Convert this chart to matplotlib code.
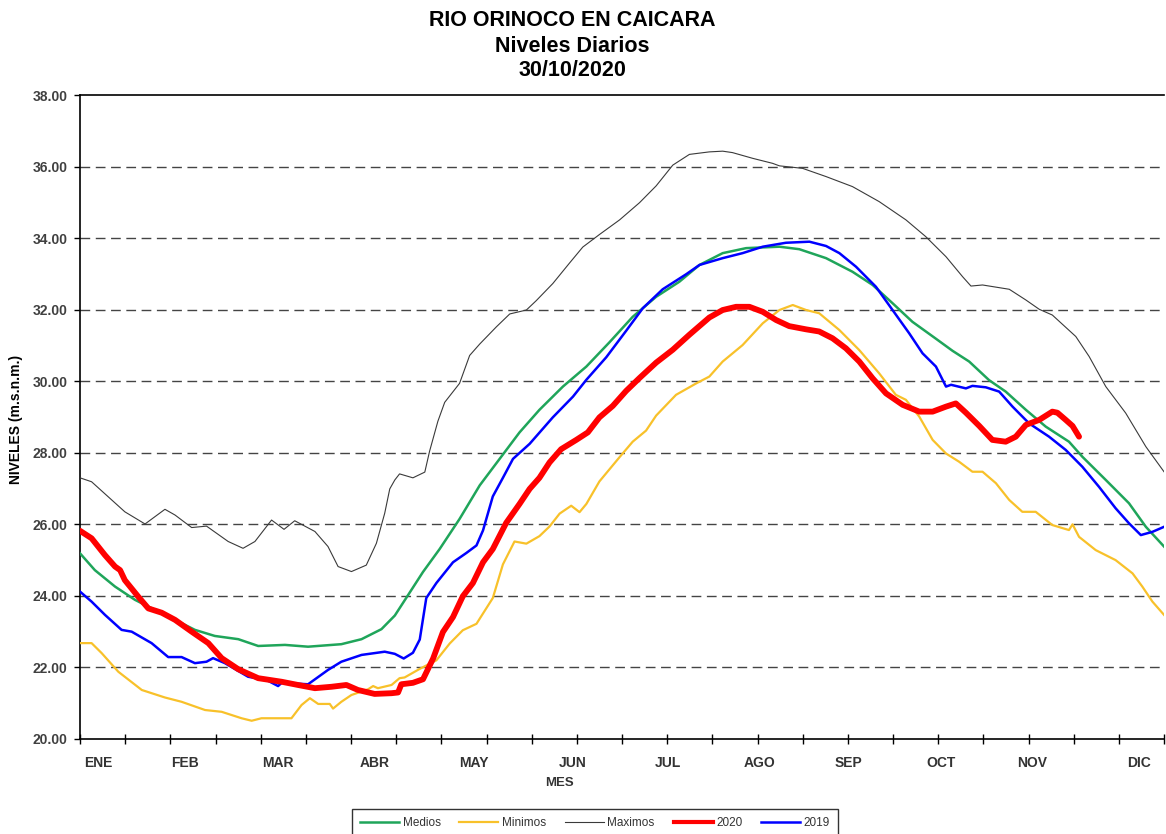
import numpy as np
import matplotlib
matplotlib.use("Agg")
import matplotlib.pyplot as plt
from matplotlib.lines import Line2D

plt.rcParams['font.family'] = ['Liberation Sans', 'DejaVu Sans']

# ---------------- DATA (day of year, level m.s.n.m.) ----------------
max_day = [0, 3.9, 9.5, 15.1, 21.9, 28.6, 32.0, 37.6, 42.6, 49.9, 54.9, 58.9, 64.5, 68.7, 72.3,
           79.1, 83.5, 86.9, 91.4, 96.4, 99.8, 102.6, 104.3, 106.0, 107.6, 112.1, 116.1, 117.7,
           120.5, 122.8, 127.8, 131.2, 134.6, 140.2, 144.7, 150.3, 153.6, 159.2, 164.8, 169.3,
           174.9, 181.7, 188.4, 194.0, 199.6, 205.2, 211.9, 216.4, 219.7, 226.5, 233.2, 235.5,
           243.3, 251.2, 260.1, 269.1, 278.1, 284.8, 291.6, 297.2, 300.0, 303.9, 312.9, 318.5,
           323.0, 327.4, 335.3, 339.8, 345.4, 352.1, 358.9, 365.0]
max_val = [27.30, 27.19, 26.77, 26.35, 26.01, 26.42, 26.26, 25.91, 25.95, 25.52, 25.33, 25.52,
           26.12, 25.86, 26.10, 25.80, 25.38, 24.82, 24.68, 24.86, 25.47, 26.31, 26.99, 27.24,
           27.41, 27.30, 27.46, 28.04, 28.88, 29.41, 29.94, 30.72, 31.04, 31.52, 31.88, 31.99,
           32.25, 32.73, 33.30, 33.75, 34.10, 34.51, 34.99, 35.46, 36.04, 36.34, 36.41, 36.43,
           36.39, 36.23, 36.09, 36.02, 35.95, 35.72, 35.44, 35.02, 34.51, 34.04, 33.48, 32.92,
           32.66, 32.69, 32.57, 32.27, 32.01, 31.85, 31.25, 30.69, 29.85, 29.11, 28.17, 27.47]

med_day = [0, 5.0, 11.8, 18.5, 25.2, 32.0, 38.7, 45.4, 53.3, 60.0, 69.0, 76.8, 88.0, 94.8, 101.5,
           106.0, 109.9, 115.5, 121.1, 127.8, 134.6, 141.3, 148.0, 154.7, 162.6, 170.5, 178.3,
           186.1, 194.0, 201.8, 208.6, 216.4, 224.3, 235.5, 242.2, 251.2, 260.1, 266.9, 273.6,
           280.3, 288.0, 293.8, 299.4, 306.1, 311.7, 318.5, 325.2, 333.0, 337.5, 345.4, 353.2,
           358.9, 365.0]
med_val = [25.19, 24.72, 24.26, 23.89, 23.61, 23.33, 23.05, 22.88, 22.79, 22.60, 22.63, 22.58,
           22.65, 22.79, 23.07, 23.45, 23.95, 24.67, 25.31, 26.15, 27.09, 27.83, 28.57, 29.20,
           29.85, 30.41, 31.09, 31.80, 32.36, 32.78, 33.25, 33.58, 33.72, 33.76, 33.69, 33.44,
           33.06, 32.69, 32.18, 31.66, 31.20, 30.85, 30.55, 30.03, 29.71, 29.20, 28.73, 28.31,
           27.89, 27.24, 26.59, 25.93, 25.38]

min_day = [0, 3.9, 7.3, 12.9, 20.8, 28.6, 34.2, 42.1, 47.7, 54.4, 57.8, 61.1, 71.2, 74.6, 77.4,
           80.2, 84.1, 85.2, 88.0, 91.4, 97.0, 98.7, 100.3, 104.9, 107.6, 109.3, 114.4, 120.0,
           124.5, 128.9, 133.5, 139.0, 142.4, 146.3, 150.3, 154.7, 158.1, 161.5, 165.4, 168.2,
           170.5, 174.9, 181.7, 186.1, 190.6, 194.0, 200.7, 207.5, 211.9, 216.4, 223.1, 229.9,
           235.5, 240.0, 244.5, 248.9, 255.7, 262.4, 269.1, 274.7, 278.1, 282.6, 287.1, 291.6,
           296.0, 300.5, 303.9, 308.4, 312.9, 317.3, 321.8, 327.4, 333.0, 334.2, 336.4, 342.0,
           348.7, 354.4, 357.7, 361.1, 365.0]
min_val = [22.68, 22.68, 22.40, 21.88, 21.37, 21.16, 21.04, 20.81, 20.76, 20.58, 20.51, 20.58,
           20.58, 20.95, 21.14, 20.98, 20.98, 20.85, 21.04, 21.23, 21.39, 21.48, 21.42, 21.51,
           21.70, 21.72, 21.96, 22.20, 22.67, 23.04, 23.22, 23.94, 24.88, 25.52, 25.46, 25.67,
           25.94, 26.30, 26.52, 26.34, 26.57, 27.20, 27.88, 28.31, 28.62, 29.04, 29.62, 29.94,
           30.13, 30.55, 31.01, 31.62, 31.99, 32.13, 31.99, 31.90, 31.43, 30.87, 30.22, 29.62,
           29.48, 29.01, 28.36, 27.98, 27.75, 27.47, 27.47, 27.15, 26.68, 26.35, 26.35, 25.98,
           25.84, 26.00, 25.65, 25.28, 25.00, 24.63, 24.26, 23.84, 23.47]

y2020_day = [0, 3.9, 8.4, 11.8, 13.5, 15.1, 19.6, 23.0, 27.5, 32.0, 37.6, 43.2, 47.7, 53.3, 60.0,
             67.9, 73.4, 79.1, 84.7, 89.7, 93.6, 99.2, 104.9, 107.1, 108.2, 112.1, 115.5, 118.9,
             122.2, 125.6, 128.9, 132.3, 135.7, 139.0, 143.5, 148.0, 151.4, 154.7, 158.1, 162.0,
             167.1, 171.0, 174.9, 179.4, 183.9, 188.4, 194.0, 199.6, 205.2, 211.9, 216.4, 220.9,
             225.4, 229.9, 234.4, 238.8, 244.5, 248.9, 253.4, 257.9, 262.4, 266.9, 271.4, 277.0,
             282.6, 287.1, 291.6, 294.9, 298.3, 302.8, 307.2, 311.7, 315.1, 318.5, 323.0, 327.4,
             329.1, 331.9, 334.2, 336.4]
y2020_val = [25.82, 25.61, 25.14, 24.82, 24.72, 24.44, 23.98, 23.65, 23.53, 23.33, 23.00, 22.68,
             22.26, 21.95, 21.70, 21.60, 21.51, 21.42, 21.46, 21.51, 21.37, 21.26, 21.28, 21.30,
             21.53, 21.57, 21.67, 22.25, 22.99, 23.41, 23.99, 24.36, 24.94, 25.31, 26.04, 26.57,
             26.99, 27.30, 27.73, 28.10, 28.36, 28.57, 28.99, 29.31, 29.73, 30.09, 30.52, 30.88,
             31.30, 31.78, 31.99, 32.08, 32.08, 31.94, 31.71, 31.54, 31.45, 31.39, 31.20, 30.92,
             30.55, 30.08, 29.66, 29.34, 29.15, 29.15, 29.29, 29.38, 29.12, 28.75, 28.36, 28.31,
             28.45, 28.78, 28.92, 29.15, 29.12, 28.92, 28.75, 28.45]

y2019_day = [0, 3.9, 8.4, 14.0, 17.4, 24.1, 29.7, 34.2, 38.7, 42.6, 44.8, 48.8, 56.6, 62.8, 66.7,
             67.9, 76.8, 83.5, 88.0, 94.8, 102.6, 106.0, 109.0, 112.1, 114.4, 116.6, 120.0, 125.6,
             130.1, 133.5, 135.7, 139.0, 142.4, 145.8, 151.4, 159.2, 166.0, 170.5, 177.2, 183.9,
             189.5, 196.2, 204.1, 208.6, 216.4, 223.1, 229.9, 237.7, 245.6, 251.2, 255.7, 261.3,
             268.0, 273.6, 279.2, 283.7, 288.2, 291.6, 293.3, 298.3, 300.5, 305.0, 309.5, 314.0,
             319.6, 326.3, 331.9, 337.5, 343.1, 348.7, 353.2, 357.2, 361.1, 365.0]
y2019_val = [24.12, 23.84, 23.47, 23.05, 23.00, 22.68, 22.29, 22.29, 22.12, 22.16, 22.26, 22.12,
             21.74, 21.65, 21.48, 21.57, 21.53, 21.93, 22.16, 22.35, 22.44, 22.38, 22.25, 22.41,
             22.78, 23.94, 24.36, 24.94, 25.20, 25.41, 25.83, 26.78, 27.30, 27.83, 28.25, 28.99,
             29.57, 30.04, 30.67, 31.41, 32.04, 32.57, 32.99, 33.25, 33.44, 33.58, 33.76, 33.87,
             33.90, 33.78, 33.58, 33.20, 32.64, 31.99, 31.34, 30.78, 30.41, 29.85, 29.90, 29.80,
             29.87, 29.83, 29.71, 29.29, 28.82, 28.45, 28.08, 27.61, 27.05, 26.45, 26.03, 25.70,
             25.79, 25.93]

month_labels = ['ENE', 'FEB', 'MAR', 'ABR', 'MAY', 'JUN', 'JUL', 'AGO', 'SEP', 'OCT', 'NOV', 'DIC']
month_label_day = [6.1, 35.3, 66.6, 99.2, 132.5, 165.8, 197.8, 228.8, 258.7, 290.0, 320.6, 356.6]
y_ticks = [20, 22, 24, 26, 28, 30, 32, 34, 36, 38]
title_lines = ['RIO ORINOCO EN CAICARA', 'Niveles Diarios', '30/10/2020']

# ---------------- FIGURE ----------------
W, H = 1166, 834
fig = plt.figure(figsize=(W / 100, H / 100), dpi=100)
ax = fig.add_axes([80 / W, 1 - 739 / H, (1164 - 80) / W, (739 - 95) / H])

c_med = '#1fa55a'
c_min = '#f8c12a'
c_max = '#3a3a3a'
c_2020 = '#ff0000'
c_2019 = '#0000ff'

ax.plot(med_day, med_val, color=c_med, lw=1.8, zorder=3)
ax.plot(min_day, min_val, color=c_min, lw=1.6, zorder=3)
ax.plot(max_day, max_val, color=c_max, lw=0.8, zorder=3)
ax.plot(y2019_day, y2019_val, color=c_2019, lw=1.8, zorder=4)
ax.plot(y2020_day, y2020_val, color=c_2020, lw=4.2, zorder=5, solid_capstyle='round')

ax.set_xlim(0, 365)
ax.set_ylim(20, 38)

# grid
for v in y_ticks[1:-1]:
    ax.axhline(v, color='#444444', lw=1.0, dashes=(7, 4), zorder=1)

for s in ['left', 'bottom', 'top']:
    ax.spines[s].set_color('black')
    ax.spines[s].set_linewidth(1.2)
ax.spines['right'].set_visible(False)

ax.set_yticks(y_ticks)
ax.set_yticklabels([f'{v:.2f}' for v in y_ticks])
ax.tick_params(axis='y', direction='out', length=4, width=1, pad=5,
               labelsize=10, labelcolor='#404040')
for lab in ax.get_yticklabels():
    lab.set_fontweight('bold')

ax.set_xticks(np.arange(25) * 365 / 24)
ax.set_xticklabels([])
ax.tick_params(axis='x', which='major', direction='inout', length=7, width=1)
ax.set_xticks(month_label_day, minor=True)
ax.set_xticklabels(month_labels, minor=True)
ax.tick_params(axis='x', which='minor', length=0, pad=12, labelsize=10, labelcolor='#333333')
for lab in ax.get_xticklabels(minor=True):
    lab.set_fontweight('bold')

fig.text(16 / W, 1 - 419 / H, 'NIVELES (m.s.n.m.)', rotation=90, ha='center', va='center',
         fontsize=10, fontweight='bold', color='black')
fig.text(559 / W, 1 - 783 / H, 'MES', ha='center', va='center',
         fontsize=9.5, fontweight='bold', color='#333333')

for txt, yy in zip(title_lines, [21, 46, 70]):
    fig.text(572 / W, 1 - yy / H, txt, ha='center', va='center', fontsize=15.5,
             fontweight='bold', color='black')

handles = [Line2D([], [], color=c_med, lw=1.8), Line2D([], [], color=c_min, lw=1.6),
           Line2D([], [], color=c_max, lw=0.8), Line2D([], [], color=c_2020, lw=3.0),
           Line2D([], [], color=c_2019, lw=1.8)]
labels = ['Medios', 'Minimos', 'Maximos', '2020', '2019']
leg = fig.legend(handles, labels, ncol=5, loc='upper center',
                 bbox_to_anchor=(595 / W, 1 - 809 / H), frameon=True, fancybox=False,
                 edgecolor='black', fontsize=8.5, handlelength=3.3, handletextpad=0.3,
                 columnspacing=1.6, borderpad=0.7, borderaxespad=0)
leg.get_frame().set_linewidth(1.0)
for t in leg.get_texts():
    t.set_color('#333333')

fig.savefig('out.png', dpi=100)
